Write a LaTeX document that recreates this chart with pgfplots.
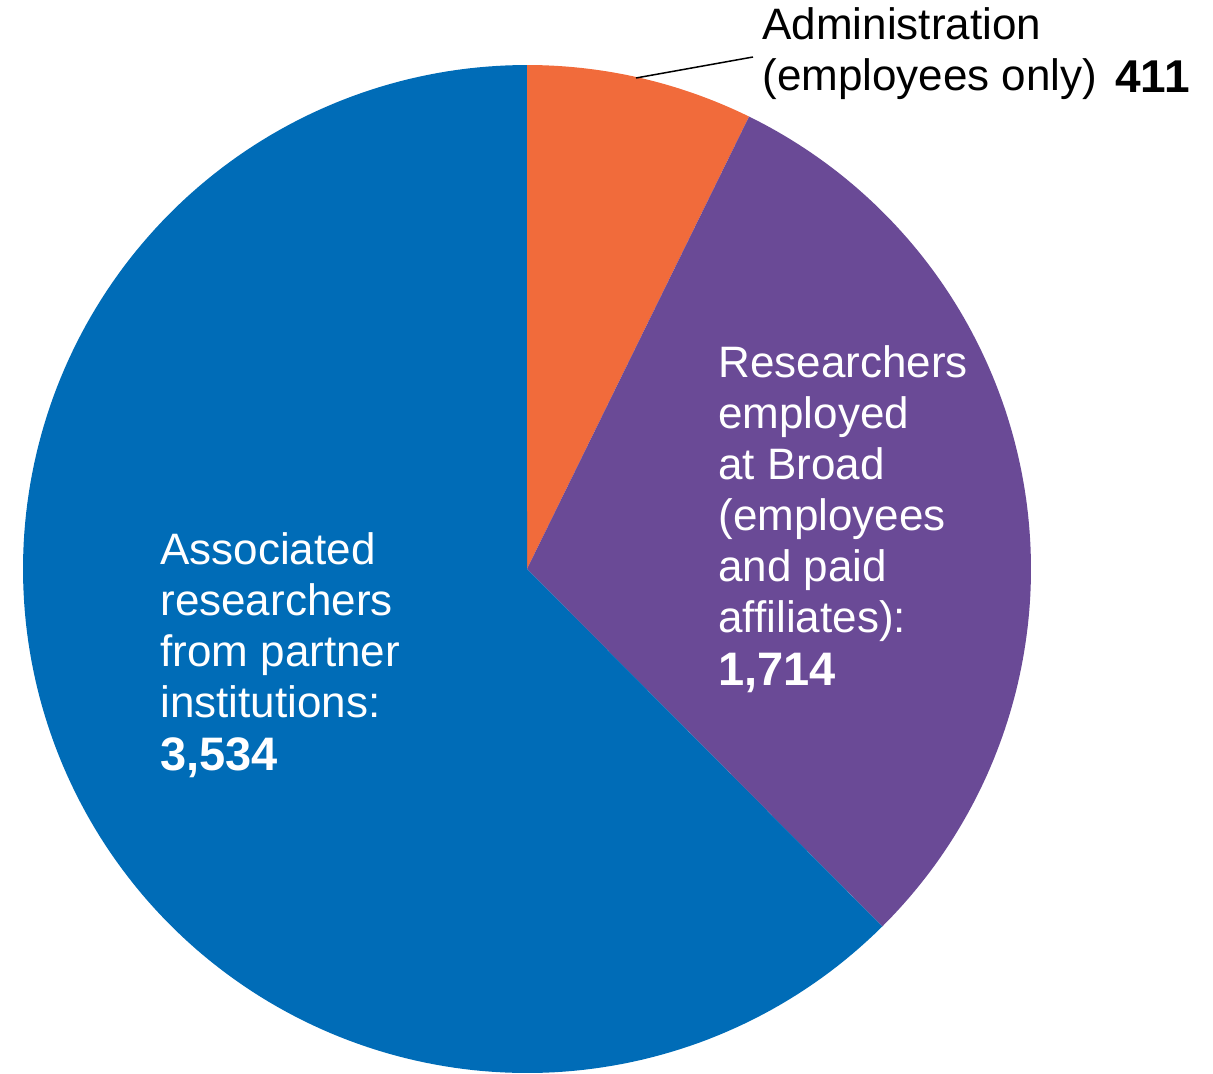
\documentclass[border=0pt]{standalone}
\usepackage{pgfplots}
\pgfplotsset{compat=1.18}
\usepackage{pgfplotstable}
\usepackage{fontspec}
\setmainfont{Liberation Sans}
\definecolor{pieblue}{RGB}{0,108,183}
\definecolor{pieorange}{RGB}{241,107,59}
\definecolor{piepurple}{RGB}{106,74,150}

\pgfplotstableread{
label value
Administration 411
Researchers 1714
Associated 3534
}\piedata

\begin{document}%
\begin{tikzpicture}
\pgfplotstablegetelem{0}{value}\of\piedata \let\va\pgfplotsretval
\pgfplotstablegetelem{1}{value}\of\piedata \let\vb\pgfplotsretval
\pgfplotstablegetelem{2}{value}\of\piedata \let\vc\pgfplotsretval
\pgfmathsetmacro{\tot}{\va+\vb+\vc}
\pgfmathsetmacro{\aA}{90}
\pgfmathsetmacro{\aB}{90-360*(\va/\tot)}
\pgfmathsetmacro{\aC}{\aB-360*(\vb/\tot)}
\pgfmathsetmacro{\aD}{\aC-360*(\vc/\tot)}
\def\cx{527}
\def\cy{504}
\def\R{504}
\begin{axis}[
  scale only axis, width=606.5pt, height=536.5pt,
  xmin=0, xmax=1213, ymin=0, ymax=1073,
  hide axis, clip=false,
]
\path (axis cs:0,0) rectangle (axis cs:1213,1073);
\addplot[draw=none, fill=pieorange, domain=\aB:\aA, samples=60, variable=\t]
  ({\cx+\R*cos(\t)},{\cy+\R*sin(\t)}) -- (axis cs:\cx,\cy) -- cycle;
\addplot[draw=none, fill=piepurple, domain=\aC:\aB, samples=120, variable=\t]
  ({\cx+\R*cos(\t)},{\cy+\R*sin(\t)}) -- (axis cs:\cx,\cy) -- cycle;
\addplot[draw=none, fill=pieblue, domain=\aD:\aC, samples=200, variable=\t]
  ({\cx+\R*cos(\t)},{\cy+\R*sin(\t)}) -- (axis cs:\cx,\cy) -- cycle;
\draw[black, line width=0.75pt] (axis cs:636,995) -- (axis cs:753,1016);
\node[anchor=north west, inner sep=0pt, align=left, font=\fontsize{22}{25.5}\selectfont, text=black]
  at (axis cs:762,1066) {Administration\\(employees only)};
\node[anchor=base west, inner sep=0pt, font=\fontsize{23}{25.5}\selectfont\bfseries, text=black]
  at (axis cs:1115,980) {411};
\node[anchor=north west, inner sep=0pt, align=left, font=\fontsize{22}{25.5}\selectfont, text=white]
  at (axis cs:718,728) {Researchers\\employed\\at Broad\\(employees\\and paid\\affiliates):\\[1pt]{\fontsize{23.5}{25.5}\selectfont\bfseries 1,714}};
\node[anchor=north west, inner sep=0pt, align=left, font=\fontsize{22}{25.5}\selectfont, text=white]
  at (axis cs:160,541) {Associated\\researchers\\from partner\\institutions:\\[1pt]{\fontsize{23.5}{25.5}\selectfont\bfseries 3,534}};
\end{axis}
\end{tikzpicture}%
\end{document}
